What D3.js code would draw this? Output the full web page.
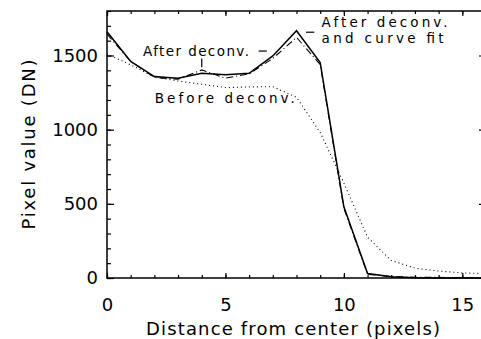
<!DOCTYPE html>
<html>
<head>
<meta charset="utf-8">
<script src="https://cdn.jsdelivr.net/npm/d3@7"></script>
<style>
	body { margin: 0; background: #fff; }
	svg { display: block; }
	text { font-family: 'DejaVu Sans', sans-serif; fill: #000; }
	.tick text { font-size: 18px; }
	.axis-label { font-size: 18px; }
	.note { font-size: 13.5px; }
</style>
</head>
<body>
<svg width="481" height="339"></svg>
<script>
// distance from center, pixels
const distance = [0, 1, 2, 3, 4, 5, 6, 7, 8, 9, 10, 11, 12, 13, 14, 15, 16];
// pixel values (DN)
const afterFit = [1660, 1460, 1358, 1347, 1380, 1371, 1380, 1497, 1667, 1453, 480, 30, 8, 2, 0, 0, 0];
const afterDeconv = [1645, 1460, 1352, 1340, 1403, 1347, 1376, 1480, 1622, 1440, 470, 25, 10, 5, 4, 3, 3];
const beforeDeconv = [1510, 1437, 1355, 1328, 1306, 1284, 1288, 1290, 1218, 981, 640, 275, 118, 66, 47, 34, 30];

const xMajorTicks = [0, 5, 10, 15];
const yMajorTicks = [0, 500, 1000, 1500];

const svg = d3.select('svg');

const render = () => {
	const margin = {top: 11, right: -5, bottom: 61, left: 107};
	const width = +svg.attr('width');
	const height = +svg.attr('height');
	const innerWidth = width - margin.left - margin.right;
	const innerHeight = height - margin.top - margin.bottom;

	const xScale = d3.scaleLinear()
		.domain([0, 16])
		.range([0, innerWidth]);

	const yScale = d3.scaleLinear()
		.domain([0, 1800])
		.range([innerHeight, 0]);

	const g = svg.append('g')
		.attr('transform', `translate(${margin.left}, ${margin.top})`);

	// minor ticks
	const xMinor = d3.range(0, 17, 1);
	const yMinor = d3.range(0, 1801, 100);

	g.append('g')
		.attr('transform', `translate(0, ${innerHeight})`)
		.call(d3.axisBottom(xScale).tickValues(xMinor).tickSize(-3).tickFormat(''));
	g.append('g')
		.call(d3.axisTop(xScale).tickValues(xMinor).tickSize(-3).tickFormat(''));
	g.append('g')
		.call(d3.axisLeft(yScale).tickValues(yMinor).tickSize(-4).tickFormat(''));
	g.append('g')
		.attr('transform', `translate(${innerWidth}, 0)`)
		.call(d3.axisRight(yScale).tickValues(yMinor).tickSize(-4).tickFormat(''));

	// major ticks with labels
	const xAxisG = g.append('g')
		.attr('transform', `translate(0, ${innerHeight})`)
		.call(d3.axisBottom(xScale).tickValues(xMajorTicks).tickSize(-5).tickPadding(20).tickFormat(d3.format('d')));
	g.append('g')
		.call(d3.axisTop(xScale).tickValues(xMajorTicks).tickSize(-5).tickFormat(''));
	const yAxisG = g.append('g')
		.call(d3.axisLeft(yScale).tickValues(yMajorTicks).tickSize(-7).tickPadding(9).tickFormat(d3.format('d')));
	g.append('g')
		.attr('transform', `translate(${innerWidth}, 0)`)
		.call(d3.axisRight(yScale).tickValues(yMajorTicks).tickSize(-7).tickFormat(''));

	g.selectAll('.domain').remove();
	g.selectAll('.tick line').attr('stroke', '#000').attr('stroke-width', 1.2);
	g.selectAll('g').attr('font-family', null).attr('font-size', null);

	g.append('rect')
		.attr('width', innerWidth)
		.attr('height', innerHeight)
		.attr('fill', 'none')
		.attr('stroke', '#000')
		.attr('stroke-width', 1.5);

	xAxisG.append('text')
		.attr('class', 'axis-label')
		.attr('x', (width - margin.left) / 2 - 1)
		.attr('y', 57)
		.attr('text-anchor', 'middle')
		.attr('textLength', 294)
		.attr('lengthAdjust', 'spacing')
		.text('Distance from center (pixels)');

	yAxisG.append('text')
		.attr('class', 'axis-label')
		.attr('transform', 'rotate(-90)')
		.attr('x', -innerHeight / 2)
		.attr('y', -72)
		.attr('text-anchor', 'middle')
		.attr('textLength', 170)
		.attr('lengthAdjust', 'spacing')
		.text('Pixel value (DN)');

	const line = values => d3.line()
		.x((d, i) => xScale(distance[i]))
		.y(d => yScale(d))(values);

	g.append('path')
		.attr('d', line(beforeDeconv))
		.attr('fill', 'none')
		.attr('stroke', '#000')
		.attr('stroke-width', 1.1)
		.attr('stroke-dasharray', '1,3');

	g.append('path')
		.attr('d', line(afterDeconv))
		.attr('fill', 'none')
		.attr('stroke', '#000')
		.attr('stroke-width', 1.1)
		.attr('stroke-dasharray', '7,3,1,3');

	g.append('path')
		.attr('d', line(afterFit))
		.attr('fill', 'none')
		.attr('stroke', '#000')
		.attr('stroke-width', 1.5);

	// annotations, in data units
	const notes = [
		{text: 'After deconv.', x: 1.52, y: 1500, len: 106},
		{text: 'Before deconv.', x: 2.02, y: 1182, len: 140},
		{text: 'After deconv.', x: 9.06, y: 1689, len: 126},
		{text: 'and curve fit', x: 9.06, y: 1581, len: 122}
	];
	g.selectAll('.note').data(notes)
		.enter().append('text')
			.attr('class', 'note')
			.attr('x', d => xScale(d.x))
			.attr('y', d => yScale(d.y))
			.attr('textLength', d => d.len)
			.attr('lengthAdjust', 'spacing')
			.text(d => d.text);

	const pointers = [
		{x1: 4, y1: 1480, x2: 4, y2: 1420},
		{x1: 6.4, y1: 1530, x2: 6.75, y2: 1530},
		{x1: 8.4, y1: 1657, x2: 8.75, y2: 1657}
	];
	g.selectAll('.pointer').data(pointers)
		.enter().append('line')
			.attr('class', 'pointer')
			.attr('x1', d => xScale(d.x1))
			.attr('y1', d => yScale(d.y1))
			.attr('x2', d => xScale(d.x2))
			.attr('y2', d => yScale(d.y2))
			.attr('stroke', '#000')
			.attr('stroke-width', 1.2);
};

render();
</script>
</body>
</html>
